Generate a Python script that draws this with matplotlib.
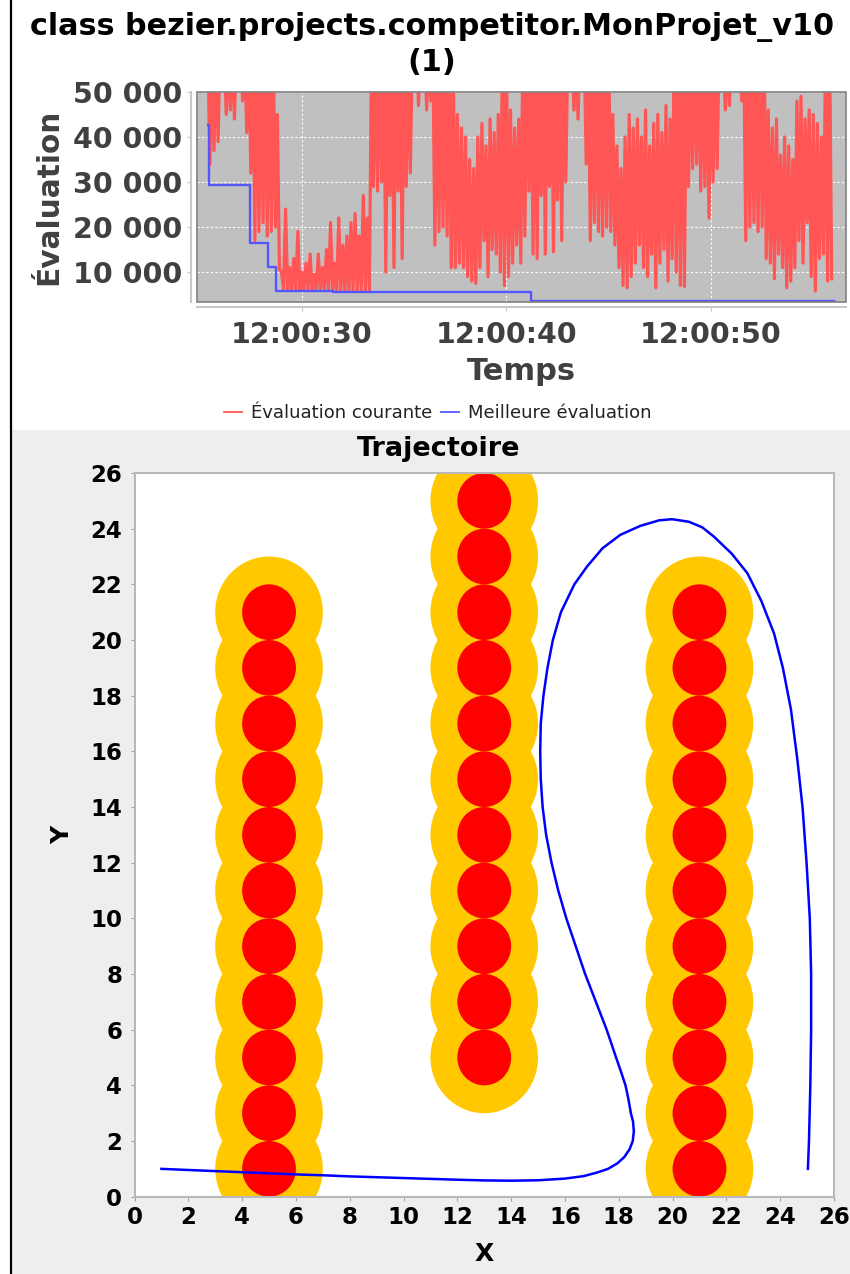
import matplotlib
matplotlib.use("Agg")
import matplotlib.pyplot as plt
from matplotlib.patches import Circle, Rectangle
from matplotlib.lines import Line2D
from matplotlib.ticker import FuncFormatter, FixedLocator

W, H = 850, 1274

# ---- top chart: evaluation over time (seconds after 12:00:00) ----
best_t = [25.40, 25.45, 27.46, 28.34, 28.73, 31.52, 41.20, 56.00]
best_v = [42600, 29300, 16500, 11200, 5900, 5550, 3500, 3500]

# current evaluation, one peak/trough pair every 0.2 s from 12:00:25.4 (thousands)
cur_start = 25.4
cur_hi = [60, 60, 60, 60, 60, 60, 60, 60, 60, 60, 60, 60, 60, 60, 60, 60,
          60, 45, 10, 24, 11, 13, 19, 10, 12, 14, 9.5, 14, 11, 15, 21, 12,
          22, 16, 18, 21, 23, 18, 27, 22, 60, 60, 60, 60, 60, 60, 60, 60,
          60, 60, 60, 60, 60, 60, 60, 60, 60, 60, 60, 60, 55, 45, 42, 40,
          35, 33, 40, 43, 38, 44, 41, 45, 60, 60, 46, 42, 44, 60, 60, 60,
          60, 60, 60, 60, 60, 60, 60, 60, 60, 60, 60, 60, 60, 60, 60, 60,
          60, 60, 60, 45, 38, 33, 40, 45, 42, 44, 40, 46, 38, 43, 45, 41,
          47, 44, 60, 60, 60, 60, 60, 60, 60, 60, 60, 60, 60, 60, 60, 60,
          60, 60, 60, 60, 60, 60, 60, 60, 60, 46, 42, 44, 36, 40, 38, 35,
          48, 49, 44, 46, 45, 43, 40, 60, 60]
cur_lo = [34, 37, 39, 60, 45, 46, 44, 60, 48, 41, 32, 17, 19, 21, 18, 19,
          20, 10.5, 6.3, 6.2, 6.1, 6.2, 6.0, 6.1, 6.2, 6.0, 6.1, 6.0, 6.2, 6.1, 6.0, 5.8,
          5.9, 5.8, 5.9, 5.8, 5.9, 5.8, 5.9, 5.8, 29, 28, 30, 10, 27, 11, 28, 13,
          29, 32, 60, 47, 60, 46, 48, 16, 19, 20, 18, 11, 11, 12, 11, 9,
          8, 7.5, 11, 17, 9, 15, 14, 10, 7, 9, 12, 16, 12, 18, 28, 14,
          13, 27, 14, 29, 14.5, 26, 17, 30, 60, 46, 44, 60, 34, 17, 21, 19,
          18, 20, 19, 16, 11, 7, 6.5, 9, 12, 16, 11, 9, 14, 6.5, 12, 15,
          8, 13, 10, 7, 6.8, 29, 33, 34, 28, 29, 22, 30, 33, 60, 46, 47,
          60, 60, 48, 17, 20, 21, 19, 20, 13, 12, 8.5, 14, 11, 6.5, 8, 11,
          17, 12, 21, 9, 5.8, 13, 14, 8, 8.5]

time_ticks = [30, 40, 50]
eval_ticks = [10000, 20000, 30000, 40000, 50000]

# ---- bottom chart: trajectory and obstacles ----
traj_x = [1.0, 2.0, 3.0, 4.0, 5.0, 6.0, 7.0, 8.0, 9.0, 10.0, 11.0, 12.0, 13.0,
          14.0, 15.0, 16.0, 16.7, 17.2, 17.6, 17.95, 18.2, 18.4, 18.52, 18.56,
          18.53, 18.45, 18.36, 18.25, 18.08, 17.9, 17.55, 17.15, 16.75, 16.4, 16.05, 15.75,
          15.5, 15.3, 15.17, 15.1, 15.08, 15.1, 15.2, 15.35, 15.55, 15.85,
          16.35, 16.82, 17.4, 18.06, 18.8, 19.5, 19.98, 20.6, 21.1, 21.53,
          22.2, 22.78, 23.3, 23.77, 24.1, 24.4, 24.64, 24.83, 24.98, 25.1,
          25.15, 25.15, 25.12, 25.07, 25.03]
traj_y = [1.0, 0.96, 0.92, 0.88, 0.84, 0.80, 0.77, 0.73, 0.70, 0.67, 0.64, 0.61, 0.585,
          0.575, 0.59, 0.65, 0.74, 0.87, 1.0, 1.2, 1.42, 1.7, 2.0, 2.35,
          2.7, 3.0, 3.5, 4.0, 4.5, 5.0, 6.0, 7.0, 8.0, 9.0, 10.0, 11.0,
          12.0, 13.0, 14.0, 15.0, 16.0, 17.0, 18.0, 19.0, 20.0, 21.0,
          22.0, 22.64, 23.3, 23.78, 24.1, 24.3, 24.34, 24.25, 24.05, 23.72,
          23.1, 22.4, 21.4, 20.24, 19.0, 17.5, 15.69, 14.0, 12.0, 10.0,
          8.0, 6.0, 4.0, 2.0, 1.0]

obs_cols = [5, 13, 21]
obs_rows = [[1, 3, 5, 7, 9, 11, 13, 15, 17, 19, 21],
            [5, 7, 9, 11, 13, 15, 17, 19, 21, 23, 25],
            [1, 3, 5, 7, 9, 11, 13, 15, 17, 19, 21]]
halo_r = 2.0
core_r = 1.0
grid_ticks = list(range(0, 27, 2))


def fx(px):
    return px / W


def fy(py):
    return 1 - py / H


fig = plt.figure(figsize=(W / 100, H / 100), dpi=100)
fig.patch.set_facecolor("white")
fig.add_artist(Rectangle((fx(12), 0), 1 - fx(12), fy(430), transform=fig.transFigure,
                         facecolor="#eeeeee", edgecolor="none", zorder=0))
fig.add_artist(Line2D([fx(11), fx(11)], [0, 1], transform=fig.transFigure,
                      color="black", lw=1.6))

# ---------------- top chart ----------------
cur_t, cur_v = [], []
for i, (hi, lo) in enumerate(zip(cur_hi, cur_lo)):
    t0 = cur_start + 0.2 * i
    cur_t += [t0, t0 + 0.1]
    cur_v += [hi * 1000, lo * 1000]

ax1 = fig.add_axes([fx(197), fy(302), (846 - 197) / W, (302 - 92) / H])
ax1.set_facecolor("#c0c0c0")
ax1.plot(cur_t, cur_v, color="#ff5555", lw=2.3, label="Évaluation courante")
ax1.step(best_t, best_v, where="post", color="#5555ff", lw=1.7,
         label="Meilleure évaluation")
ax1.set_xlim(24.87, 56.6)
ax1.set_ylim(3350, 50000)
ax1.xaxis.set_major_locator(FixedLocator(time_ticks))
ax1.yaxis.set_major_locator(FixedLocator(eval_ticks))
ax1.xaxis.set_major_formatter(FuncFormatter(lambda v, p: "12:00:%02d" % v))
ax1.yaxis.set_major_formatter(FuncFormatter(lambda v, p: f"{v:,.0f}".replace(",", "\u00a0")))
ax1.grid(True, color="white", linestyle=(0, (2, 2)), lw=0.8)
ax1.set_axisbelow(True)
for s in ["top", "right"]:
    ax1.spines[s].set_visible(False)
ax1.spines["bottom"].set_position(("outward", 3.6))
ax1.spines["left"].set_position(("outward", 4.3))
for s in ["bottom", "left"]:
    ax1.spines[s].set_color("#c8c8c8")
    ax1.spines[s].set_linewidth(1.5)
ax1.add_patch(Rectangle((0, 0), 1, 1, transform=ax1.transAxes, fill=False,
                        edgecolor="#808080", lw=1.2, clip_on=False, zorder=5))
ax1.tick_params(axis="x", colors="#c8c8c8", labelcolor="#404040", labelsize=20.5,
                length=3, pad=7)
ax1.tick_params(axis="y", colors="#c8c8c8", labelcolor="#404040", labelsize=20.5,
                length=3, pad=3.5)
for lab in ax1.get_xticklabels() + ax1.get_yticklabels():
    lab.set_fontweight("bold")

fig.text(fx(432), fy(35), "class bezier.projects.competitor.MonProjet_v10",
         ha="center", va="baseline", fontsize=21.8, fontweight="bold")
fig.text(fx(432), fy(71), "(1)", ha="center", va="baseline", fontsize=21.8,
         fontweight="bold")
fig.text(fx(49), fy(197), "Évaluation", rotation=90, ha="center", va="center",
         fontsize=21.3, fontweight="bold", color="#404040")
fig.text(fx(521.5), fy(372), "Temps", ha="center", va="center", fontsize=22,
         fontweight="bold", color="#404040")
fig.legend(loc="center", bbox_to_anchor=(fx(438), fy(413)), ncol=2, frameon=False,
           fontsize=13, handlelength=1.0, handletextpad=0.5, columnspacing=0.5,
           labelcolor="#222222")
for ln in fig.legends[0].get_lines():
    ln.set_linewidth(1.3)

# ---------------- bottom chart ----------------
ax2 = fig.add_axes([fx(134.5), fy(1196.7), (834 - 134.5) / W, (1196.7 - 473) / H])
ax2.set_facecolor("white")
for cx, rows in zip(obs_cols, obs_rows):
    for cy in rows:
        ax2.add_patch(Circle((cx, cy), halo_r, facecolor="#ffc800", edgecolor="none", zorder=1))
for cx, rows in zip(obs_cols, obs_rows):
    for cy in rows:
        ax2.add_patch(Circle((cx, cy), core_r, facecolor="#ff0000", edgecolor="none", zorder=2))
ax2.plot(traj_x, traj_y, color="#0000ff", lw=1.8, zorder=3, solid_joinstyle="round")
ax2.set_xlim(0, 26)
ax2.set_ylim(0, 26)
ax2.set_xticks(grid_ticks)
ax2.set_yticks(grid_ticks)
for s in ax2.spines.values():
    s.set_color("#b8b8b8")
    s.set_linewidth(1.5)
ax2.tick_params(axis="both", colors="#a0a0a0", labelcolor="black", labelsize=16.5,
                length=3, pad=4)
ax2.tick_params(axis="y", pad=6)
for lab in ax2.get_xticklabels() + ax2.get_yticklabels():
    lab.set_fontweight("bold")

fig.text(fx(438.5), fy(449), "Trajectoire", ha="center", va="center",
         fontsize=19.5, fontweight="bold")
fig.text(fx(484), fy(1254), "X", ha="center", va="center", fontsize=18,
         fontweight="bold")
fig.text(fx(62), fy(835), "Y", rotation=90, ha="center", va="center",
         fontsize=18, fontweight="bold")

fig.savefig("out.png", dpi=100)
